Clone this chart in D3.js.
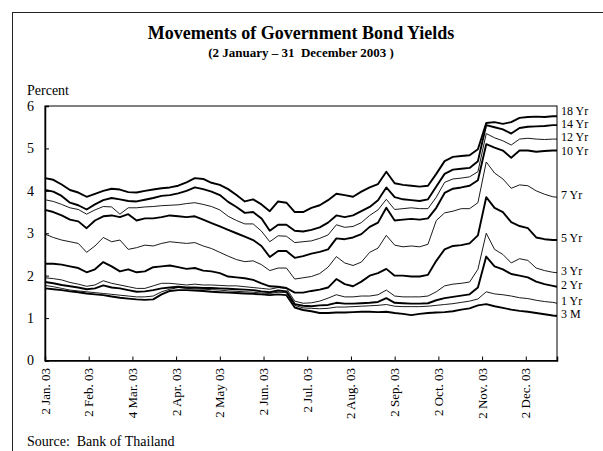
<!DOCTYPE html>
<html><head><meta charset="utf-8">
<script src="https://cdn.jsdelivr.net/npm/d3@7"></script>
<style>
body{margin:0;background:#fff;}
text{font-family:"Liberation Serif","Times New Roman",serif;fill:#000;}
</style>
</head><body>
<svg id="c" width="603" height="451"></svg>
<script>
// ---- data ----
const tickLabels = ["2 Jan. 03","2 Feb. 03","4 Mar. 03","2 Apr. 03","2 May 03","2 Jun. 03","2 Jul. 03","2 Aug. 03","2 Sep. 03","2 Oct. 03","2 Nov. 03","2 Dec. 03"];
const tickDays = [0,21,42,63,84,105,126,147,168,189,210,231]; // trading-day index
const lastDay = 246;
const sampleDays = [...d3.range(0, 245, 4), lastDay];
const yTicks = [0,1,2,3,4,5,6];
const seriesNames = ["18 Yr","14 Yr","12 Yr","10 Yr","7 Yr","5 Yr","3 Yr","2 Yr","1 Yr","3 M"];

const yr18 = [4.30,4.26,4.15,4.02,3.96,3.86,3.93,4.00,4.05,4.03,
  3.97,3.96,4.00,4.03,4.06,4.08,4.12,4.20,4.30,4.28,
  4.19,4.14,4.04,3.90,3.75,3.80,3.68,3.52,3.75,3.72,
  3.50,3.50,3.60,3.66,3.78,3.93,3.90,3.86,3.98,4.08,
  4.16,4.45,4.18,4.14,4.12,4.10,4.12,4.40,4.70,4.80,
  4.82,4.84,4.98,5.60,5.62,5.58,5.62,5.72,5.74,5.75,
  5.74,5.76,5.76];
const yr14 = [4.02,3.98,3.88,3.72,3.66,3.56,3.68,3.78,3.83,3.80,
  3.76,3.75,3.79,3.83,3.88,3.90,3.94,4.00,4.08,4.04,
  3.98,3.90,3.74,3.62,3.48,3.50,3.35,3.06,3.20,3.20,
  3.06,3.04,3.08,3.14,3.25,3.42,3.38,3.42,3.52,3.62,
  3.78,4.08,3.85,3.80,3.78,3.76,3.80,4.10,4.40,4.50,
  4.52,4.54,4.70,5.55,5.50,5.45,5.35,5.48,5.51,5.52,
  5.53,5.55,5.55];
const yr12 = [3.79,3.75,3.68,3.60,3.56,3.45,3.55,3.63,3.62,3.45,
  3.60,3.60,3.62,3.63,3.65,3.66,3.67,3.70,3.72,3.68,
  3.63,3.55,3.40,3.30,3.22,3.22,3.05,2.80,2.94,2.93,
  2.78,2.80,2.82,2.88,2.96,3.20,3.14,3.16,3.25,3.42,
  3.55,3.80,3.56,3.58,3.60,3.58,3.58,3.85,4.20,4.28,
  4.30,4.33,4.45,5.35,5.25,5.18,5.08,5.22,5.24,5.22,
  5.21,5.22,5.22];
const yr10 = [3.55,3.50,3.42,3.32,3.28,3.12,3.30,3.40,3.42,3.38,
  3.45,3.30,3.35,3.35,3.38,3.42,3.40,3.38,3.40,3.32,
  3.24,3.16,3.08,3.00,2.92,2.84,2.70,2.44,2.58,2.58,
  2.42,2.46,2.52,2.56,2.62,2.88,2.86,2.90,2.98,3.15,
  3.25,3.60,3.30,3.32,3.34,3.32,3.35,3.60,3.95,4.05,
  4.08,4.12,4.25,5.10,5.02,4.95,4.78,4.95,4.95,4.92,
  4.94,4.95,4.95];
const yr7 = [2.98,2.90,2.84,2.80,2.76,2.55,2.70,2.90,2.80,2.84,
  2.62,2.66,2.72,2.70,2.76,2.80,2.78,2.76,2.78,2.70,
  2.64,2.55,2.46,2.38,2.33,2.35,2.26,2.12,2.18,2.18,
  1.92,1.95,1.98,2.05,2.20,2.45,2.30,2.24,2.32,2.55,
  2.65,2.95,2.72,2.68,2.70,2.68,2.74,3.30,3.48,3.52,
  3.58,3.58,3.72,4.68,4.42,4.28,4.06,4.14,4.12,4.00,
  3.92,3.86,3.85];
const yr5 = [2.28,2.28,2.26,2.22,2.18,2.08,2.15,2.32,2.22,2.10,
  2.15,2.08,2.10,2.20,2.22,2.24,2.20,2.16,2.18,2.12,
  2.10,2.06,1.98,1.96,1.94,1.90,1.82,1.75,1.74,1.71,
  1.60,1.60,1.64,1.67,1.72,1.92,1.80,1.75,1.86,2.00,
  2.06,2.16,2.00,2.00,1.98,1.98,2.02,2.35,2.62,2.70,
  2.72,2.76,2.95,3.85,3.60,3.50,3.26,3.17,3.12,2.90,
  2.86,2.84,2.84];
const yr3 = [1.95,1.93,1.90,1.84,1.80,1.75,1.78,1.88,1.82,1.78,
  1.74,1.70,1.70,1.76,1.82,1.82,1.80,1.78,1.80,1.78,
  1.78,1.77,1.76,1.76,1.74,1.72,1.70,1.68,1.72,1.70,
  1.40,1.35,1.36,1.40,1.47,1.55,1.50,1.50,1.52,1.52,
  1.55,1.66,1.52,1.50,1.50,1.50,1.52,1.62,1.76,1.80,
  1.82,1.85,2.15,3.00,2.62,2.50,2.30,2.40,2.36,2.18,
  2.12,2.08,2.07];
const yr2 = [1.85,1.82,1.78,1.75,1.72,1.68,1.70,1.77,1.72,1.70,
  1.66,1.62,1.63,1.66,1.70,1.72,1.74,1.72,1.72,1.71,
  1.71,1.70,1.69,1.68,1.67,1.66,1.63,1.61,1.65,1.63,
  1.33,1.29,1.28,1.30,1.31,1.36,1.34,1.34,1.35,1.36,
  1.38,1.47,1.36,1.35,1.34,1.34,1.35,1.42,1.47,1.50,
  1.53,1.56,1.72,2.45,2.22,2.15,2.04,2.00,1.96,1.86,
  1.80,1.76,1.74];
const yr1 = [1.77,1.74,1.70,1.66,1.64,1.62,1.60,1.58,1.56,1.54,
  1.52,1.50,1.50,1.52,1.62,1.68,1.72,1.70,1.69,1.68,
  1.67,1.66,1.64,1.63,1.62,1.61,1.59,1.58,1.61,1.60,
  1.30,1.24,1.23,1.22,1.23,1.26,1.26,1.27,1.28,1.29,
  1.30,1.32,1.28,1.27,1.27,1.27,1.28,1.30,1.32,1.34,
  1.37,1.40,1.45,1.62,1.57,1.55,1.52,1.48,1.46,1.42,
  1.39,1.37,1.35];
const m3 = [1.70,1.68,1.66,1.63,1.61,1.58,1.56,1.54,1.51,1.48,
  1.46,1.44,1.43,1.44,1.56,1.64,1.66,1.66,1.65,1.64,
  1.62,1.61,1.60,1.59,1.58,1.57,1.56,1.54,1.56,1.54,
  1.25,1.19,1.16,1.12,1.12,1.13,1.13,1.14,1.15,1.15,
  1.14,1.15,1.12,1.10,1.07,1.10,1.12,1.13,1.14,1.16,
  1.20,1.23,1.30,1.33,1.28,1.24,1.20,1.17,1.15,1.12,
  1.09,1.06,1.05];

const seriesValues = [yr18,yr14,yr12,yr10,yr7,yr5,yr3,yr2,yr1,m3];

// ---- layout / style ----
const svg = d3.select("#c");
const L = 45, R = 557, T = 106, B = 360.5;
const x = d3.scaleLinear().domain([0, lastDay]).range([L, R]);
const y = d3.scaleLinear().domain([0, 6]).range([B, T]);
const widths = {"18 Yr":1.9,"14 Yr":1.9,"12 Yr":0.9,"10 Yr":1.9,"7 Yr":0.9,"5 Yr":1.9,"3 Yr":0.9,"2 Yr":1.9,"1 Yr":0.9,"3 M":1.9};

// outer frame
svg.append("rect").attr("x",12.5).attr("y",12.5).attr("width",640).attr("height",480)
  .attr("fill","none").attr("stroke","#222").attr("stroke-width",1);

// titles
svg.append("text").attr("x",301).attr("y",39).attr("text-anchor","middle")
  .style("font-size","18px").style("font-weight","bold").text("Movements of Government Bond Yields");
svg.append("text").attr("x",301).attr("y",57).attr("text-anchor","middle")
  .style("font-size","13px").style("font-weight","bold").style("white-space","pre")
  .text("(2 January \u2013 31  December 2003 )");
svg.append("text").attr("x",27).attr("y",95).style("font-size","14px").text("Percent");

// plot box
svg.append("rect").attr("x",L).attr("y",T).attr("width",R-L).attr("height",B-T)
  .attr("fill","none").attr("stroke","#000").attr("stroke-width",1);

// y axis (inward ticks)
const yAxis = d3.axisRight(y).tickValues(yTicks).tickSize(4).tickFormat("");
const gy = svg.append("g").attr("transform",`translate(${L},0)`).call(yAxis);
gy.select(".domain").attr("stroke-width",1.5);
svg.selectAll(".ylab").data(yTicks).join("text").attr("class","ylab")
  .attr("x",34).attr("y",d=>y(d)).attr("dy","0.35em").attr("text-anchor","end")
  .style("font-size","14px").text(d=>d);

// x axis (inward ticks)
const xAxis = d3.axisTop(x).tickValues(tickDays).tickSize(4).tickFormat("");
const gx = svg.append("g").attr("transform",`translate(0,${B})`).call(xAxis);
gx.select(".domain").attr("stroke-width",1.5);
svg.selectAll(".xlab").data(tickDays).join("text").attr("class","xlab")
  .attr("transform",(d)=>`translate(${x(d)+4.5},${B+7.5}) rotate(-90)`)
  .attr("text-anchor","end").style("font-size","13px")
  .text((d,i)=>tickLabels[i]);

// lines
const line = d3.line().x((d,i)=>x(sampleDays[i])).y(d=>y(d));
svg.append("g").selectAll("path").data(seriesValues).join("path")
  .attr("d", d=>line(d)).attr("fill","none").attr("stroke","#000")
  .attr("stroke-linejoin","round")
  .attr("stroke-width",(d,i)=>widths[seriesNames[i]]);

// right labels with simple collision avoidance
const labs = seriesNames.map((n,i)=>({n, y: y(seriesValues[i][seriesValues[i].length-1]) - 2}));
const gap = 13.4;
for (let it=0; it<80; it++){
  for (let i=1;i<labs.length;i++){
    const d = labs[i].y - labs[i-1].y;
    if (d < gap){ const s=(gap-d)/2; labs[i].y += s; labs[i-1].y -= s; }
  }
}
svg.selectAll(".rlab").data(labs).join("text").attr("class","rlab")
  .attr("x",R+4).attr("y",d=>d.y).attr("dy","0.33em")
  .style("font-size","12px").text(d=>d.n);

// source
svg.append("text").attr("x",27).attr("y",446).style("font-size","14px").style("white-space","pre")
  .text("Source:  Bank of Thailand");
</script>
</body></html>
